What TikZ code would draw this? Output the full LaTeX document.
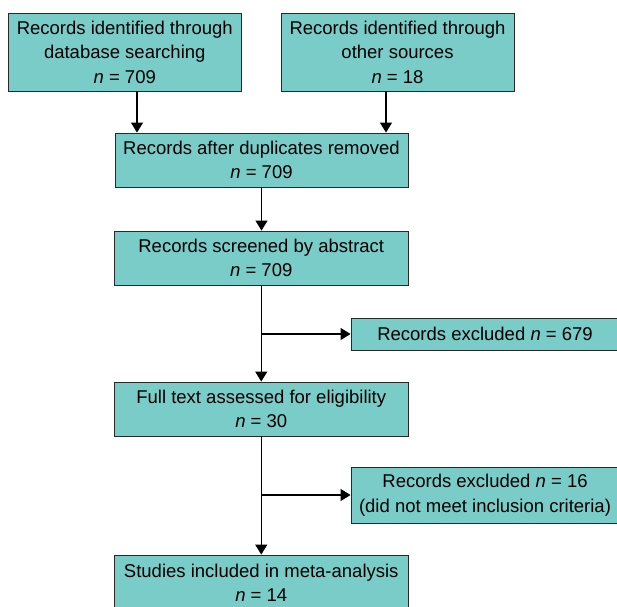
\documentclass[tikz,border=0pt]{standalone}
\usepackage{fontspec}
\setmainfont{Liberation Sans}
\usetikzlibrary{arrows.meta}
\definecolor{boxfill}{RGB}{122,204,200}
\definecolor{boxline}{RGB}{40,40,40}
\begin{document}
\begin{tikzpicture}[x=1pt,y=-1pt,
 box/.style={draw=boxline, fill=boxfill, line width=0.9pt, inner sep=0pt, align=center,
   font=\fontsize{18.5}{24.5}\selectfont},
 arr/.style={line width=1.2pt, -{Triangle[width=12pt,length=10pt]}},
 ln/.style={line width=1.2pt}]
\useasboundingbox (0,0) rectangle (617,606);
\clip (0,0) rectangle (617,606);
\node[box, minimum width=232.5pt, minimum height=78pt] (b1) at (124.75,52)
  {Records identified through\\database searching\\\textit{n} = 709};
\node[box, minimum width=233pt, minimum height=78pt] (b2) at (397.5,52)
  {Records identified through\\other sources\\\textit{n} = 18};
\node[box, minimum width=293pt, minimum height=54pt] (b3) at (261.5,160)
  {Records after duplicates removed\\\textit{n} = 709};
\node[box, minimum width=293.5pt, minimum height=54pt] (b4) at (261.25,258)
  {Records screened by abstract\\\textit{n} = 709};
\node[box, minimum width=268pt, minimum height=32pt] (b5) at (485,334)
  {Records excluded \textit{n} = 679};
\node[box, minimum width=293.5pt, minimum height=54pt] (b6) at (261.25,409)
  {Full text assessed for eligibility\\\textit{n} = 30};
\node[box, minimum width=268pt, minimum height=56pt] (b7) at (485,495)
  {Records excluded \textit{n} = 16\\(did not meet inclusion criteria)};
\node[box, minimum width=293.5pt, minimum height=56pt] (b8) at (261.25,583)
  {Studies included in meta-analysis\\\textit{n} = 14};
\draw[arr] ([xshift=12.25pt]b1.south) -- ([xshift=12.25pt]b1.south |- b3.north);
\draw[arr] ([xshift=-11.5pt]b2.south) -- ([xshift=-11.5pt]b2.south |- b3.north);
\draw[arr] (b3.south) -- (b3.south |- b4.north);
\draw[arr] (b4.south) -- (b4.south |- b6.north);
\draw[arr] (b4.south |- b5.west) -- (b5.west);
\draw[arr] (b6.south) -- (b6.south |- b8.north);
\draw[arr] (b6.south |- b7.west) -- (b7.west);
\end{tikzpicture}
\end{document}
